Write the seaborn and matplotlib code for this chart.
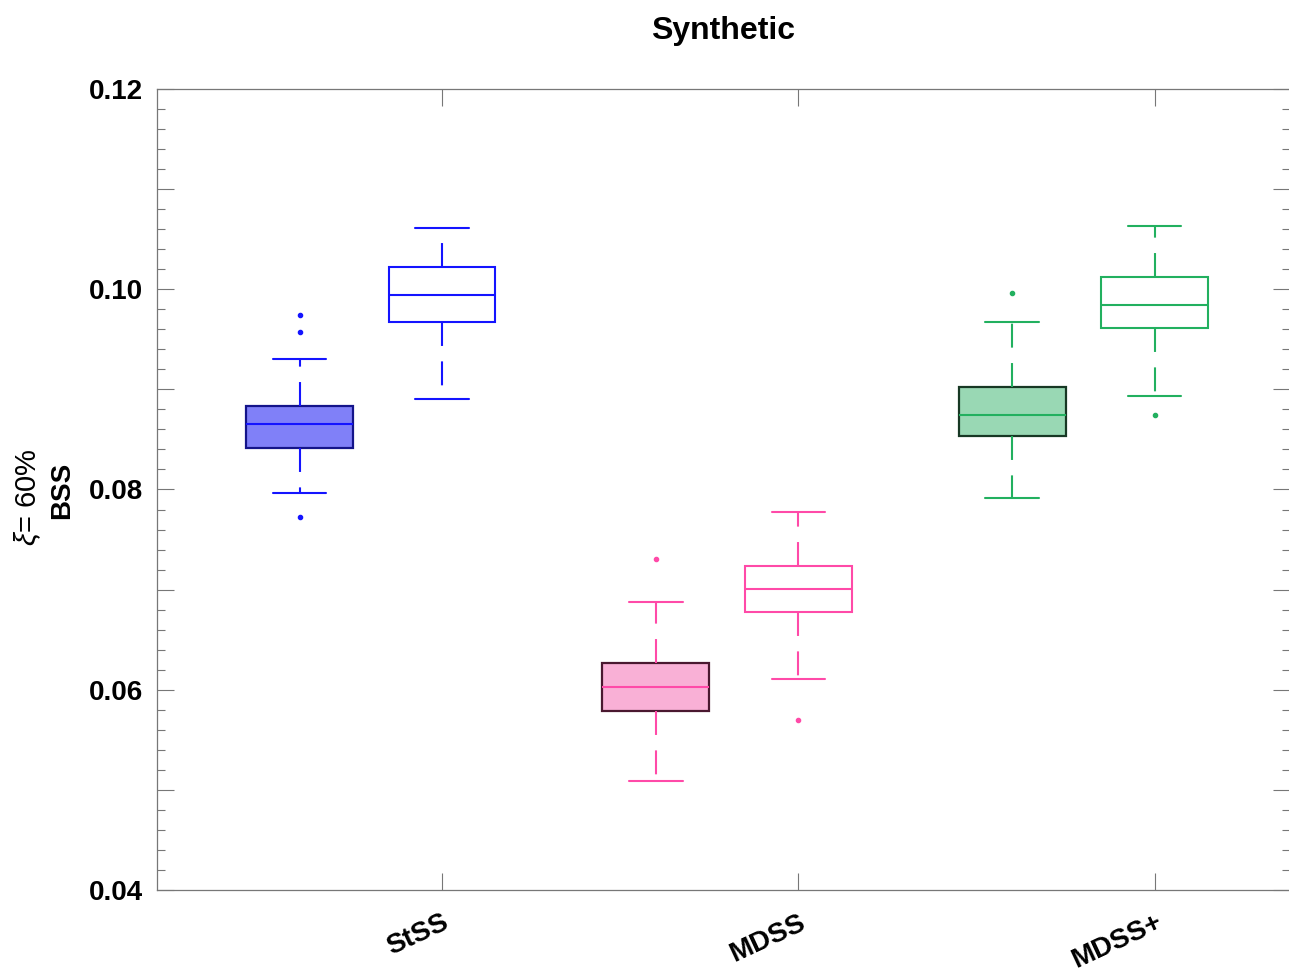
import matplotlib
matplotlib.use('Agg')
import numpy as np
import pandas as pd
import matplotlib.pyplot as plt
import seaborn as sns
from matplotlib.ticker import MultipleLocator, FuncFormatter

sns.set_style('ticks')
plt.rcParams['font.family'] = ['Liberation Sans', 'DejaVu Sans']
plt.rcParams['text.color'] = 'black'
plt.rcParams['xtick.labelcolor'] = 'black'
plt.rcParams['ytick.labelcolor'] = 'black'
plt.rcParams['mathtext.fontset'] = 'custom'
plt.rcParams['mathtext.it'] = 'Liberation Sans:italic'

# ---- data ----
methods = ['StSS', 'MDSS', 'MDSS+']
method_pos = [1, 2, 3]
box_pos = [0.6, 1.0, 1.6, 2.0, 2.6, 3.0]
box_filled = [True, False, True, False, True, False]

q1 = [0.0841, 0.0967, 0.0579, 0.0678, 0.0853, 0.0961]
med = [0.0865, 0.0994, 0.0603, 0.0701, 0.0874, 0.0984]
q3 = [0.0883, 0.1022, 0.0627, 0.0724, 0.0902, 0.1012]
whis_lo = [0.0797, 0.0890, 0.0509, 0.0611, 0.0792, 0.0893]
whis_hi = [0.0930, 0.1061, 0.0688, 0.0778, 0.0967, 0.1063]
fliers_lo = [[0.0773], [], [], [0.0570], [], [0.0874]]
fliers_hi = [[0.0957, 0.0974], [], [0.0731], [], [0.0996], []]

line_col = ['#1414ff', '#1414ff', '#ff4aa8', '#ff4aa8', '#22b05f', '#22b05f']
face_col = ['#8080f8', 'white', '#f9b0d6', 'white', '#99d8b4', 'white']
edge_col = ['#14148a', '#1414ff', '#4a1830', '#ff4aa8', '#173824', '#22b05f']


def box_sample(i):
    # 17 values so that the quartiles land exactly on q1 / med / q3
    low = fliers_lo[i] + [whis_lo[i]]
    low = low + [q1[i]] * (4 - len(low))
    high = [whis_hi[i]] + fliers_hi[i]
    high = [q3[i]] * (4 - len(high)) + high
    return low + [q1[i]] + [med[i]] * 7 + [q3[i]] + high


rows = []
for i, p in enumerate(box_pos):
    for v in box_sample(i):
        rows.append({'pos': p, 'value': v})
df = pd.DataFrame(rows)

# ---- figure ----
fig = plt.figure(figsize=(12.89, 9.72), dpi=100)
ax = fig.add_axes([0.1218, 0.0844, 0.879, 0.824])

for i, p in enumerate(box_pos):
    c = line_col[i]
    sns.boxplot(data=df[df['pos'] == p], x='pos', y='value', orient='x',
                native_scale=True, width=0.3, whis=1.5, ax=ax,
                boxprops=dict(facecolor=face_col[i], edgecolor=edge_col[i],
                              linewidth=1.6 if box_filled[i] else 1.5),
                medianprops=dict(color=c, linewidth=1.5),
                whiskerprops=dict(color=c, linewidth=1.5,
                                  linestyle=(0, (11.5, 7.4))),
                capprops=dict(color=c, linewidth=1.5),
                flierprops=dict(marker='o', markersize=3, markerfacecolor=c,
                                markeredgecolor=c))

ax.set_xlim(0.2, 3.38)
ax.set_ylim(0.04, 0.12)
ax.set_xticks(method_pos)
ax.set_xticklabels(methods, rotation=25, ha='right', va='top',
                   rotation_mode='anchor', fontsize=20, fontweight='bold')
ax.yaxis.set_major_locator(MultipleLocator(0.01))
ax.yaxis.set_minor_locator(MultipleLocator(0.002))
ax.yaxis.set_major_formatter(FuncFormatter(
    lambda v, _: f'{v:.2f}' if round(v * 100) % 2 == 0 else ''))
ax.tick_params(axis='y', labelsize=20, pad=10)
for lab in ax.get_yticklabels():
    lab.set_fontweight('bold')
ax.tick_params(which='both', direction='in', top=True, right=True,
               color='#777777', width=0.8)
ax.tick_params(which='major', length=12)
ax.tick_params(which='minor', length=6)
ax.tick_params(axis='x', pad=14)
for s in ax.spines.values():
    s.set_color('#777777')
    s.set_linewidth(0.9)

ax.set_xlabel('')
ax.set_ylabel('')
ax.set_title('Synthetic', fontsize=23, fontweight='bold', pad=36)

fig.text(28 / 1289, 1 - 497 / 972, r'$\xi$= 60%', rotation=90, fontsize=21,
         ha='center', va='center')
fig.text(62 / 1289, 1 - 490 / 972, 'BSS', rotation=90, fontsize=20,
         fontweight='bold', ha='center', va='center')

fig.savefig('out.png', dpi=100)
